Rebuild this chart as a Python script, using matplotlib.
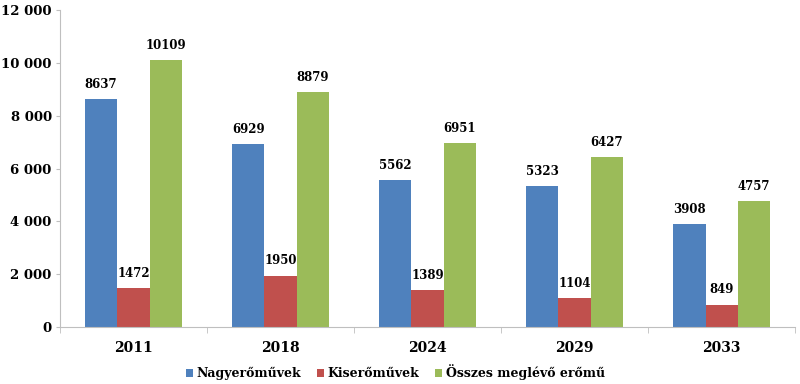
import matplotlib
matplotlib.use("Agg")
import matplotlib.pyplot as plt
import numpy as np

years = ["2011", "2018", "2024", "2029", "2033"]
series_names = ["Nagyerőművek", "Kiserőművek", "Összes meglévő erőmű"]
nagy = [8637, 6929, 5562, 5323, 3908]
kis = [1472, 1950, 1389, 1104, 849]
osszes = [10109, 8879, 6951, 6427, 4757]
colors = ["#4F81BD", "#C0504D", "#9BBB59"]
yticks = [0, 2000, 4000, 6000, 8000, 10000, 12000]

plt.rcParams['font.family'] = ['DejaVu Serif']
fig = plt.figure(figsize=(8, 3.84), dpi=100)
ax = fig.add_axes([0.075, 0.148, 0.919, 0.826])

x = np.arange(len(years))
w = 0.22
for i, (vals, name, c) in enumerate(zip([nagy, kis, osszes], series_names, colors)):
    bars = ax.bar(x + (i - 1) * w, vals, w, color=c, label=name)
    for b, v in zip(bars, vals):
        ax.annotate(str(v), (b.get_x() + b.get_width() / 2, v), xytext=(0, 6),
                    textcoords="offset points", ha="center", va="bottom",
                    fontsize=8.5, fontweight="bold", color="#000000")

axis_col = "#BFBFBF"
ax.set_xlim(-0.5, len(years) - 0.5)
ax.set_ylim(0, 12000)
ax.set_yticks(yticks)
ax.set_yticklabels([f"{v:,}".replace(",", " ") for v in yticks], fontsize=9.5, fontweight="bold")
ax.set_xticks(x)
ax.set_xticklabels(years, fontsize=10, fontweight="bold")
ax.set_xticks(np.arange(len(years) + 1) - 0.5, minor=True)
ax.tick_params(axis="x", which="major", length=0, pad=10)
ax.tick_params(axis="x", which="minor", length=4, color=axis_col)
ax.tick_params(axis="y", length=3, color=axis_col, pad=3)
for s in ["top", "right"]:
    ax.spines[s].set_visible(False)
for s in ["left", "bottom"]:
    ax.spines[s].set_color(axis_col)

leg = ax.legend(loc="center", bbox_to_anchor=(0.456, -0.142), ncol=3, frameon=False,
                prop={"size": 9, "weight": "bold"}, handlelength=0.6, handleheight=0.6,
                handletextpad=0.3, columnspacing=1.2)

fig.savefig("out.png", dpi=100)
